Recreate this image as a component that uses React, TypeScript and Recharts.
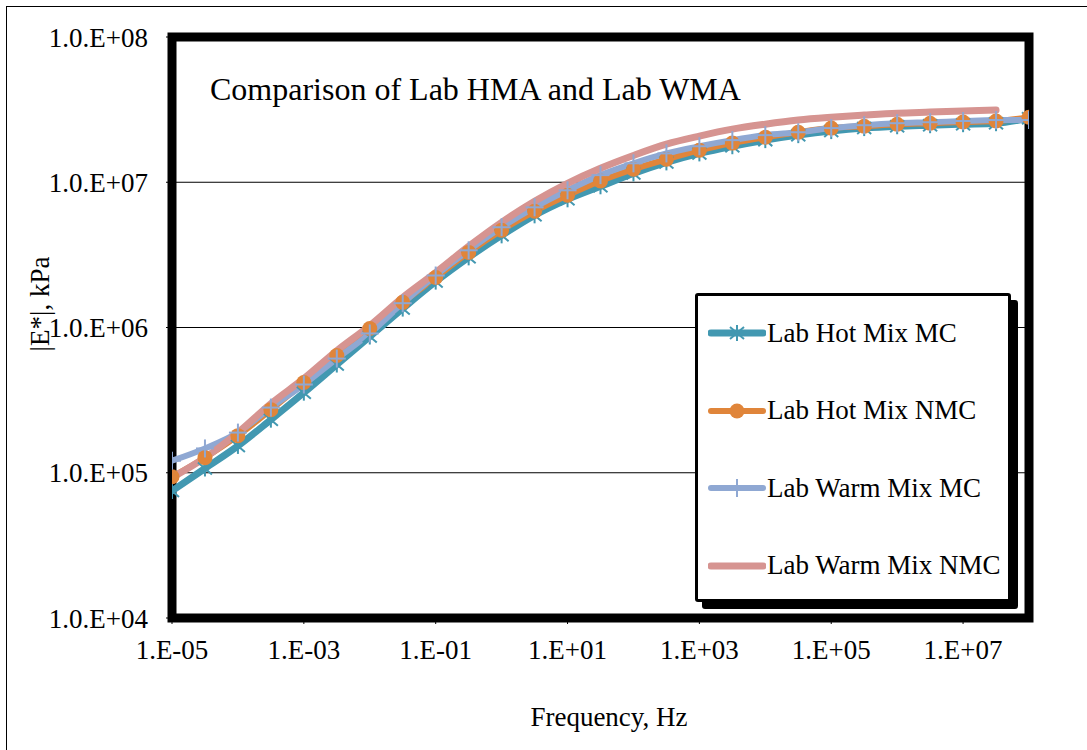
import {
  LineChart,
  Line,
  XAxis,
  YAxis,
  CartesianGrid,
  ReferenceArea,
} from "recharts";

// frequency, Hz (half-decade steps)
const frequencies = [
  1e-5, 3.162e-5, 1e-4, 3.162e-4, 1e-3, 3.162e-3, 1e-2, 3.162e-2, 1e-1, 3.162e-1,
  1, 3.162, 10, 31.62, 100, 316.2, 1e3, 3.162e3, 1e4, 3.162e4, 1e5, 3.162e5, 1e6,
  3.162e6, 1e7, 3.162e7, 1e8,
];

// |E*|, kPa
const hotMC = [
  75000, 107000, 153000, 232000, 356000, 556000, 867000, 1.35e6, 2.07e6, 3.04e6,
  4.31e6, 5.92e6, 7.63e6, 9.38e6, 1.15e7, 1.37e7, 1.58e7, 1.77e7, 1.95e7, 2.11e7,
  2.25e7, 2.36e7, 2.43e7, 2.47e7, 2.51e7, 2.55e7, 2.76e7,
];
const hotNMC = [
  93800, 127000, 180000, 272000, 418000, 641000, 984000, 1.49e6, 2.21e6, 3.29e6,
  4.67e6, 6.31e6, 8.13e6, 1.02e7, 1.23e7, 1.44e7, 1.66e7, 1.86e7, 2.04e7, 2.21e7,
  2.36e7, 2.43e7, 2.51e7, 2.55e7, 2.6e7, 2.64e7, 2.8e7,
];
const warmMC = [
  121000, 147000, 189000, 281000, 405000, 611000, 910000, 1.47e6, 2.28e6, 3.4e6,
  4.9e6, 6.72e6, 8.8e6, 1.12e7, 1.35e7, 1.58e7, 1.77e7, 1.95e7, 2.11e7, 2.21e7,
  2.36e7, 2.47e7, 2.55e7, 2.59e7, 2.64e7, 2.68e7, 2.68e7,
];
const warmNMC = [
  92500, 127000, 189000, 299000, 445000, 693000, 1.03e6, 1.61e6, 2.39e6, 3.62e6,
  5.3e6, 7.4e6, 9.84e6, 1.25e7, 1.53e7, 1.83e7, 2.08e7, 2.32e7, 2.51e7, 2.68e7,
  2.8e7, 2.9e7, 2.99e7, 3.04e7, 3.09e7, 3.14e7, null,
];

const xTicks = [1e-5, 1e-3, 1e-1, 1e1, 1e3, 1e5, 1e7];
const yTicks = [1e4, 1e5, 1e6, 1e7, 1e8];

const data = frequencies.map((f, i) => ({
  f,
  hotMC: hotMC[i],
  hotNMC: hotNMC[i],
  warmMC: warmMC[i],
  warmNMC: warmNMC[i],
}));

type MarkerKind = "star" | "circle" | "plus" | "none";

const series: { key: string; name: string; color: string; width: number; marker: MarkerKind }[] = [
  { key: "hotMC", name: "Lab Hot Mix MC", color: "#4298B1", width: 7, marker: "star" },
  { key: "hotNMC", name: "Lab Hot Mix NMC", color: "#E0853A", width: 6, marker: "circle" },
  { key: "warmMC", name: "Lab Warm Mix MC", color: "#8FA8D3", width: 6, marker: "plus" },
  { key: "warmNMC", name: "Lab Warm Mix NMC", color: "#D69491", width: 7, marker: "none" },
];

const FONT = '"Liberation Serif", "Times New Roman", serif';

function exp(v: number) {
  return Math.round(Math.log10(v));
}
function fmtX(v: number) {
  const e = exp(v);
  return `1.E${e < 0 ? "-" : "+"}${String(Math.abs(e)).padStart(2, "0")}`;
}
function fmtY(v: number) {
  const e = exp(v);
  return `1.0.E+${String(e).padStart(2, "0")}`;
}

function Marker({ kind, x, y, color }: { kind: MarkerKind; x: number; y: number; color: string }) {
  if (kind === "circle") return <circle cx={x} cy={y} r={7.5} fill={color} />;
  if (kind === "plus")
    return (
      <g stroke={color} strokeWidth={2}>
        <line x1={x} y1={y - 9} x2={x} y2={y + 9} />
        <line x1={x - 9} y1={y} x2={x + 9} y2={y} />
      </g>
    );
  if (kind === "star")
    return (
      <g stroke={color} strokeWidth={2}>
        <line x1={x} y1={y - 8} x2={x} y2={y + 8} />
        <line x1={x - 7} y1={y - 6} x2={x + 7} y2={y + 6} />
        <line x1={x - 7} y1={y + 6} x2={x + 7} y2={y - 6} />
      </g>
    );
  return null;
}

const dotFor = (kind: MarkerKind, color: string) => (p: any) => {
  if (kind === "none" || p.cx == null || p.cy == null || p.value == null)
    return <g key={`d${p.index}`} />;
  return <Marker key={`d${p.index}`} kind={kind} x={p.cx} y={p.cy} color={color} />;
};

function ChartLegend() {
  return (
    <div
      style={{
        position: "absolute",
        left: 695,
        top: 293,
        width: 310,
        height: 303,
        border: "3px solid #000",
        boxShadow: "7px 7px 0 #000",
        borderRadius: 3,
        background: "#fff",
      }}
    >
      {series.map((s, i) => (
        <div
          key={s.key}
          style={{
            position: "absolute",
            left: 10,
            top: 37 + i * 77.5 - 20,
            height: 40,
            display: "flex",
            alignItems: "center",
            whiteSpace: "nowrap",
          }}
        >
          <svg width={58} height={24}>
            <line x1={3} y1={12} x2={55} y2={12} stroke={s.color} strokeWidth={s.width} strokeLinecap="round" />
            <Marker kind={s.marker} x={29} y={12} color={s.color} />
          </svg>
          <span style={{ fontFamily: FONT, fontSize: 27, color: "#000", marginLeft: 1 }}>{s.name}</span>
        </div>
      ))}
    </div>
  );
}

export default function App() {
  const tickStyle = { fontSize: 27, fill: "#000", fontFamily: FONT };
  return (
    <div style={{ position: "absolute", left: 0, top: 0, width: 1087, height: 750, background: "#fff", fontFamily: FONT }}>
      <div
        style={{
          position: "absolute",
          left: 6,
          top: 6,
          width: 1090,
          height: 750,
          border: "1.5px solid #000",
        }}
      />
      <LineChart
        width={1087}
        height={750}
        data={data}
        margin={{ top: 37, right: 58, bottom: 0, left: 0 }}
      >
        <CartesianGrid vertical={false} stroke="#000" strokeWidth={1.2} />
        <XAxis
          dataKey="f"
          type="number"
          scale="log"
          domain={[1e-5, 1e8]}
          ticks={xTicks}
          tickFormatter={fmtX}
          tick={tickStyle}
          tickSize={6}
          tickMargin={16}
          tickLine={{ stroke: "#000" }}
          axisLine={false}
          height={132}
          allowDataOverflow
        />
        <YAxis
          type="number"
          scale="log"
          domain={[1e4, 1e8]}
          ticks={yTicks}
          tickFormatter={fmtY}
          tick={tickStyle}
          tickSize={6}
          tickMargin={18}
          tickLine={{ stroke: "#000" }}
          axisLine={false}
          width={172}
          allowDataOverflow
        />
        <ReferenceArea
          x1={1e-5}
          x2={1e8}
          y1={1e4}
          y2={1e8}
          fill="none"
          fillOpacity={0}
          stroke="#000"
          strokeWidth={9}
          ifOverflow="visible"
        />
        {series.map((s) => (
          <Line
            key={s.key}
            dataKey={s.key}
            name={s.name}
            type="monotone"
            stroke={s.color}
            strokeWidth={s.width}
            strokeLinejoin="round"
            strokeLinecap="round"
            dot={dotFor(s.marker, s.color)}
            activeDot={false}
            connectNulls={false}
            isAnimationActive={false}
          />
        ))}
      </LineChart>
      <div style={{ position: "absolute", left: 210, top: 71, fontSize: 32, color: "#000", whiteSpace: "nowrap" }}>
        Comparison of Lab HMA and Lab WMA
      </div>
      <div
        style={{
          position: "absolute",
          left: 40,
          top: 304,
          fontSize: 27,
          color: "#000",
          whiteSpace: "nowrap",
          transform: "translate(-50%, -50%) rotate(-90deg)",
        }}
      >
        |E*|, kPa
      </div>
      <div
        style={{
          position: "absolute",
          left: 609,
          top: 717,
          fontSize: 27,
          color: "#000",
          whiteSpace: "nowrap",
          transform: "translate(-50%, -50%)",
        }}
      >
        Frequency, Hz
      </div>
      <ChartLegend />
    </div>
  );
}
